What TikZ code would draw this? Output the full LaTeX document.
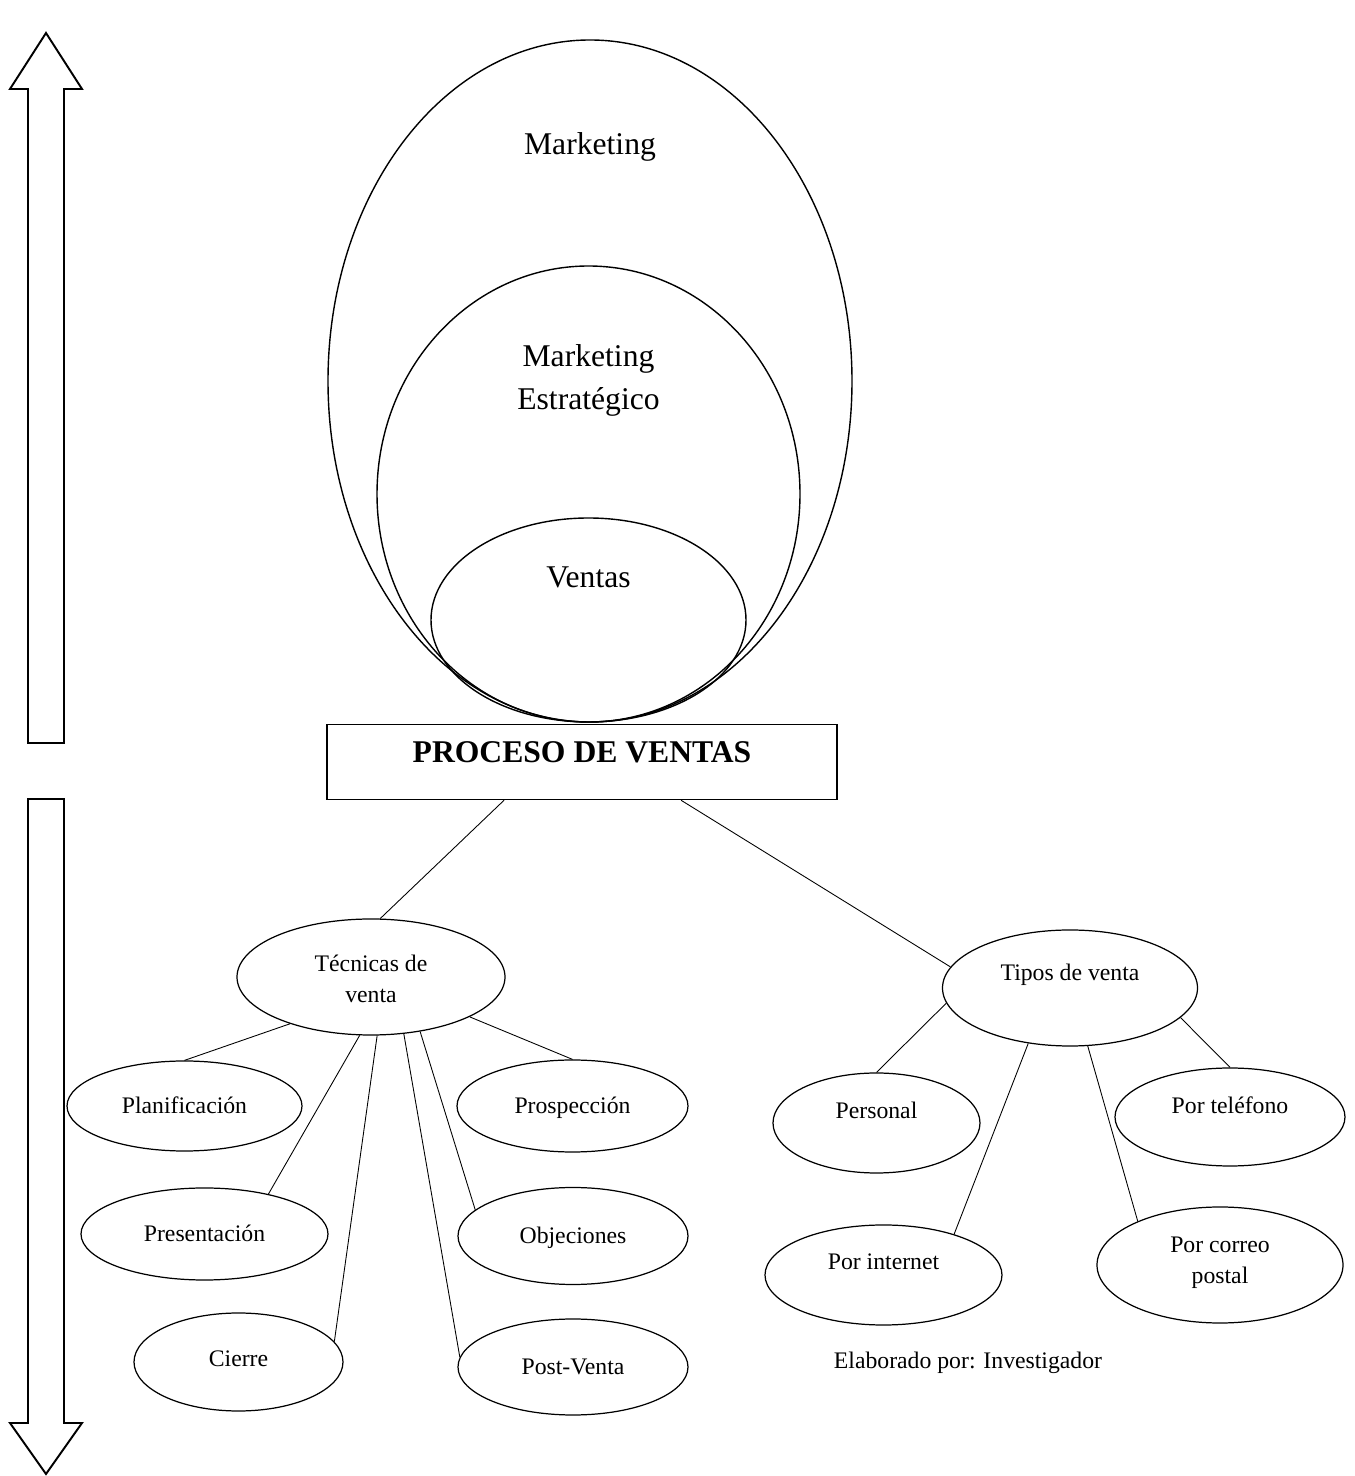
\documentclass[tikz,border=0pt]{standalone}
\usepackage{fontspec}
\setmainfont{Liberation Serif}
\usetikzlibrary{shapes.geometric}

\begin{document}
\begin{tikzpicture}[every node/.style={font=\fontsize{13.5}{17.6}\selectfont},
  oval/.style={draw, ellipse, line width=0.7pt, inner sep=0pt},
  big/.style={font=\fontsize{18}{24.4}\selectfont, align=center},
  small/.style={align=center},
  link/.style={line width=0.5pt}]
  \useasboundingbox (0,0) rectangle (27.1,29.52);
  % Flechas laterales
  \draw[line width=1.1pt] (0.92,28.86) -- (1.64,27.74) -- (1.28,27.74) -- (1.28,14.66)
    -- (0.56,14.66) -- (0.56,27.74) -- (0.2,27.74) -- cycle;
  \draw[line width=1.1pt] (0.56,13.54) -- (1.28,13.54) -- (1.28,1.06) -- (1.64,1.06)
    -- (0.92,0.04) -- (0.2,1.06) -- (0.56,1.06) -- cycle;
  % Marketing
  \node[oval, line width=0.8pt, minimum width=10.48cm, minimum height=13.64cm,
    label={[big, yshift=4.68cm]center:Marketing}] (mkt) at (11.8,21.9) {};
  \node[oval, line width=0.8pt, minimum width=8.46cm, minimum height=9.12cm,
    label={[big, yshift=2.27cm]center:Marketing\\Estratégico}] (estr) at (11.77,19.64) {};
  \node[oval, line width=0.8pt, minimum width=6.3cm, minimum height=4.08cm,
    label={[big, yshift=0.86cm]center:Ventas}] (vent) at (11.77,17.12) {};
  % Proceso
  \node[draw, line width=0.6pt, minimum width=10.2cm, minimum height=1.5cm,
    label={[big, font=\fontsize{18}{24.4}\selectfont\bfseries, yshift=0.19cm]center:PROCESO DE VENTAS}]
    (proceso) at (11.64,14.275) {};
  % Tecnicas de venta
  \node[oval, minimum width=5.36cm, minimum height=2.32cm,
    label={[small, yshift=-0.04cm]center:Técnicas de\\venta}] (tec) at (7.42,9.98) {};
  \node[oval, minimum width=4.7cm, minimum height=1.8cm,
    label={[yshift=0.02cm]center:Planificación}] (plan) at (3.69,7.4) {};
  \node[oval, minimum width=4.62cm, minimum height=1.84cm,
    label={[yshift=-0.04cm]center:Prospección}] (prosp) at (11.45,7.4) {};
  \node[oval, minimum width=4.94cm, minimum height=1.84cm,
    label={[yshift=0.02cm]center:Presentación}] (pres) at (4.09,4.84) {};
  \node[oval, minimum width=4.6cm, minimum height=1.94cm,
    label={[yshift=-0.04cm]center:Objeciones}] (obj) at (11.46,4.8) {};
  \node[oval, minimum width=4.18cm, minimum height=1.96cm,
    label={[yshift=0.06cm]center:Cierre}] (cierre) at (4.77,2.28) {};
  \node[oval, minimum width=4.6cm, minimum height=1.92cm,
    label={center:Post-Venta}] (postv) at (11.46,2.18) {};
  % Tipos de venta
  \node[oval, minimum width=5.1cm, minimum height=2.32cm,
    label={[yshift=0.26cm]center:Tipos de venta}] (tipos) at (21.4,9.76) {};
  \node[oval, minimum width=4.14cm, minimum height=2cm,
    label={[yshift=0.26cm]center:Personal}] (pers) at (17.53,7.06) {};
  \node[oval, minimum width=4.6cm, minimum height=1.96cm,
    label={[yshift=0.24cm]center:Por teléfono}] (tel) at (24.6,7.18) {};
  \node[oval, minimum width=4.74cm, minimum height=2cm,
    label={[yshift=0.26cm]center:Por internet}] (inter) at (17.67,4.02) {};
  \node[oval, minimum width=4.92cm, minimum height=2.32cm,
    label={[small, yshift=0.05cm]center:Por correo\\postal}] (correo) at (24.4,4.22) {};
  \node (elab) at (19.36,2.26) {Elaborado por: Investigador};
  % Lineas
  \draw[link] (proceso.206) -- (tec.81);
  \draw[link] (proceso.339) -- (tipos.170);
  \draw[link] (tec.210) -- (plan.north);
  \draw[link] (tec.338) -- (prosp.north);
  \draw[link] (tec.259) -- (pres.32);
  \draw[link] (tec.276) -- (cierre.12);
  \draw[link] (tec.300) -- (postv.175);
  \draw[link] (tec.312) -- (obj.165);
  \draw[link] (tipos.187.5) -- (pers.north);
  \draw[link] (tipos.233) -- (inter.30);
  \draw[link] (tipos.287) -- (correo.152);
  \draw[link] (tipos.345) -- (tel.north);
\end{tikzpicture}
\end{document}
